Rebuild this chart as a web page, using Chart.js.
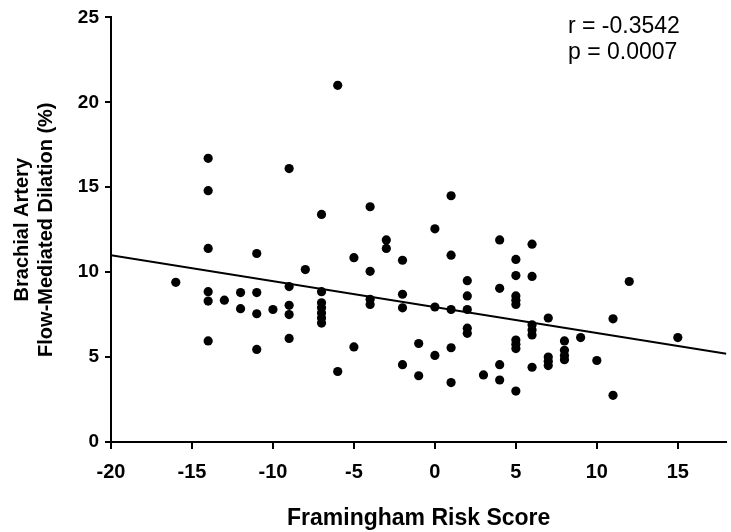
<!DOCTYPE html>
<html>
<head>
<meta charset="utf-8">
<script src="https://cdn.jsdelivr.net/npm/chart.js@4.4.1/dist/chart.umd.min.js"></script>
<style>
    html, body { margin: 0; padding: 0; background: #ffffff; }
    #wrap { width: 731px; height: 532px; position: relative; }
</style>
</head>
<body>
<div id="wrap"><canvas id="fmdChart" width="731" height="532"></canvas></div>
<script>
// Framingham risk score (x) vs brachial artery FMD % (y)
const riskScore = [
    -16,
    -14, -14, -14, -14, -14, -14,
    -13,
    -12, -12,
    -11, -11, -11, -11,
    -10,
    -9, -9, -9, -9, -9,
    -8,
    -7, -7, -7, -7, -7, -7, -7,
    -6, -6,
    -5, -5,
    -4, -4, -4, -4,
    -3, -3,
    -2, -2, -2, -2,
    -1, -1,
    0, 0, 0,
    1, 1, 1, 1, 1,
    2, 2, 2, 2, 2,
    3,
    4, 4, 4, 4,
    5, 5, 5, 5, 5, 5, 5, 5, 5,
    6, 6, 6, 6, 6, 6,
    7, 7, 7, 7,
    8, 8, 8, 8,
    9,
    10,
    11, 11,
    12,
    15
];
const fmdPercent = [
    9.4,
    16.7, 14.8, 11.4, 8.85, 8.3, 5.95,
    8.35,
    8.8, 7.85,
    11.1, 8.8, 7.55, 5.45,
    7.8,
    16.1, 9.15, 8.05, 7.5, 6.1,
    10.15,
    13.4, 8.85, 8.2, 7.9, 7.6, 7.3, 7.0,
    21.0, 4.15,
    10.85, 5.6,
    13.85, 10.05, 8.4, 8.1,
    11.9, 11.4,
    10.7, 8.7, 7.9, 4.55,
    5.8, 3.9,
    12.55, 7.95, 5.1,
    14.5, 11.0, 7.8, 5.55, 3.5,
    9.5, 8.6, 7.8, 6.7, 6.4,
    3.95,
    11.9, 9.05, 4.55, 3.65,
    10.75, 9.8, 8.6, 8.35, 8.1, 6.0, 5.75, 5.5, 3.0,
    11.65, 9.75, 6.9, 6.6, 6.3, 4.4,
    7.3, 5.0, 4.75, 4.5,
    5.95, 5.4, 5.1, 4.85,
    6.15,
    4.8,
    7.25, 2.75,
    9.45,
    6.15
];

// regression line end points
const fitX = [-20, 18];
const fitY = [11.0, 5.2];

const statLines = ['r = -0.3542', 'p = 0.0007'];

const FONT = '"Liberation Sans", Arial, sans-serif';

// Text block with the r / p values, top-right of the plot
const statsLabel = {
    id: 'statsLabel',
    afterDraw(chart) {
        const ctx = chart.ctx;
        const area = chart.chartArea;
        ctx.save();
        ctx.fillStyle = '#000';
        ctx.font = '23px ' + FONT;
        ctx.textAlign = 'left';
        ctx.textBaseline = 'alphabetic';
        statLines.forEach((t, i) => {
            ctx.fillText(t, area.left + 457, area.top + 16 + i * 26);
        });
        ctx.restore();
    }
};

const scatterPts = riskScore.map((x, i) => ({ x: x, y: fmdPercent[i] }));
const fitPts = fitX.map((x, i) => ({ x: x, y: fitY[i] }));

new Chart(document.getElementById('fmdChart'), {
    type: 'scatter',
    data: {
        datasets: [
            {
                data: scatterPts,
                pointStyle: 'circle',
                pointRadius: 4.6,
                backgroundColor: '#000',
                borderColor: '#000',
                borderWidth: 0
            },
            {
                type: 'line',
                data: fitPts,
                borderColor: '#000',
                borderWidth: 2,
                pointRadius: 0,
                fill: false,
                tension: 0
            }
        ]
    },
    options: {
        responsive: false,
        animation: false,
        events: [],
        layout: { padding: { left: 0, right: 1, top: 12, bottom: 0 } },
        plugins: {
            legend: { display: false },
            tooltip: { enabled: false }
        },
        scales: {
            x: {
                type: 'linear',
                min: -20,
                max: 18,
                afterFit(s) { s.height = 90; },
                border: { display: true, color: '#000', width: 2 },
                grid: { display: true, drawOnChartArea: false, drawTicks: true, tickLength: 7, color: '#000', lineWidth: 2 },
                ticks: {
                    stepSize: 5,
                    includeBounds: false,
                    color: '#000',
                    padding: 11,
                    maxRotation: 0,
                    font: { family: FONT, size: 20, weight: 'bold' }
                },
                title: {
                    display: true,
                    text: 'Framingham Risk Score',
                    color: '#000',
                    padding: { top: 10, bottom: 0 },
                    font: { family: FONT, size: 23, weight: 'bold' }
                }
            },
            y: {
                type: 'linear',
                min: 0,
                max: 25,
                afterFit(s) { s.width = 111; },
                border: { display: true, color: '#000', width: 2 },
                grid: { display: true, drawOnChartArea: false, drawTicks: true, tickLength: 6, color: '#000', lineWidth: 2 },
                ticks: {
                    stepSize: 5,
                    color: '#000',
                    padding: 6,
                    font: { family: FONT, size: 19, weight: 'bold' }
                },
                title: {
                    display: true,
                    text: ['Brachial Artery', 'Flow-Mediated Dilation (%)'],
                    color: '#000',
                    padding: { top: 10, bottom: 0 },
                    font: { family: FONT, size: 20, weight: 'bold', lineHeight: 1.2 }
                }
            }
        }
    },
    plugins: [statsLabel]
});
</script>
</body>
</html>
